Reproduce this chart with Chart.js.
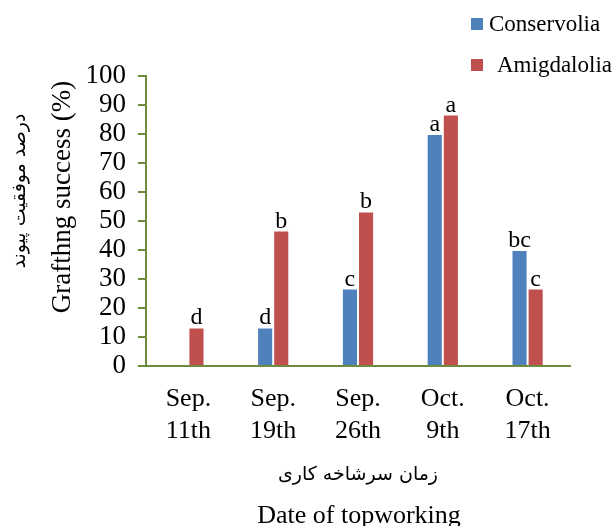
<!DOCTYPE html>
<html>
<head>
<meta charset="utf-8">
<script src="https://cdn.jsdelivr.net/npm/chart.js@4.4.1/dist/chart.umd.min.js"></script>
<style>
  html, body { margin: 0; padding: 0; background: #fff; }
  #wrap { width: 616px; height: 526px; }
</style>
</head>
<body>
<div id="wrap"><canvas id="c" width="616" height="526"></canvas></div>
<script>
// Topworking dates (two-line category labels)
const categories = [["Sep.", "11th"], ["Sep.", "19th"], ["Sep.", "26th"], ["Oct.", "9th"], ["Oct.", "17th"]];
// Grafting success (%) per cultivar
const conservolia = [0, 13.3, 26.7, 80, 40];
const amigdalolia = [13.3, 46.7, 53.3, 86.7, 26.7];
// Mean-separation letters shown above the bars
const conservoliaLetters = ["", "d", "c", "a", "bc"];
const amigdaloliaLetters = ["d", "b", "b", "a", "c"];
const yTicks = [0, 10, 20, 30, 40, 50, 60, 70, 80, 90, 100];

const serif = "'Liberation Serif', 'Times New Roman', serif";
const arabicFont = "'DejaVu Sans', sans-serif";
const axisColor = "#6F8C3E";
const blue = "#4F81BD";
const red = "#C0504D";

const extras = {
  id: "extras",
  afterDatasetsDraw(chart) {
    const ctx = chart.ctx;
    ctx.save();
    // letters over bars
    ctx.font = "24px " + serif;
    ctx.fillStyle = "#000";
    ctx.textAlign = "center";
    ctx.textBaseline = "alphabetic";
    const letterSets = [conservoliaLetters, amigdaloliaLetters];
    chart.data.datasets.forEach((ds, di) => {
      const meta = chart.getDatasetMeta(di);
      meta.data.forEach((bar, i) => {
        const t = letterSets[di][i];
        if (t) ctx.fillText(t, bar.x, bar.y - 3);
      });
    });
    ctx.restore();
  },
  afterDraw(chart) {
    const ctx = chart.ctx;
    ctx.save();
    ctx.fillStyle = "#000";
    // legend (stacked, top right)
    const items = [
      { label: chart.data.datasets[0].label, color: blue, x: 471, y: 24, tx: 489 },
      { label: chart.data.datasets[1].label, color: red, x: 471, y: 65, tx: 497 }
    ];
    ctx.font = "23px " + serif;
    ctx.textAlign = "left";
    ctx.textBaseline = "middle";
    items.forEach(it => {
      ctx.fillStyle = it.color;
      ctx.fillRect(it.x, it.y - 6, 12, 12);
      ctx.fillStyle = "#000";
      ctx.fillText(it.label, it.tx, it.y + 1);
    });
    // y-axis titles (rotated)
    ctx.save();
    ctx.translate(63, 197);
    ctx.rotate(-Math.PI / 2);
    ctx.textAlign = "center";
    ctx.textBaseline = "middle";
    ctx.font = "27px " + serif;
    ctx.fillText("Grafthng success (%)", 0, 0);
    ctx.restore();
    ctx.save();
    ctx.translate(20, 191);
    ctx.rotate(-Math.PI / 2);
    ctx.textAlign = "center";
    ctx.textBaseline = "middle";
    ctx.font = "19px " + arabicFont;
    ctx.direction = "rtl";
    ctx.fillText("درصد موفقیت پیوند", 0, 0);
    ctx.restore();
    // x-axis titles
    ctx.textAlign = "center";
    ctx.textBaseline = "middle";
    ctx.font = "19px " + arabicFont;
    ctx.direction = "rtl";
    ctx.fillText("زمان سرشاخه کاری", 358, 475);
    ctx.direction = "ltr";
    ctx.font = "26px " + serif;
    ctx.fillText("Date of topworking", 359, 516);
    ctx.restore();
  }
};

new Chart(document.getElementById("c"), {
  type: "bar",
  data: {
    labels: categories,
    datasets: [
      { label: "Conservolia", data: conservolia, backgroundColor: blue, borderColor: "rgba(255,255,255,0.35)", borderWidth: 1 },
      { label: "Amigdalolia", data: amigdalolia, backgroundColor: red, borderColor: "rgba(255,255,255,0.35)", borderWidth: 1 }
    ]
  },
  options: {
    responsive: false,
    animation: false,
    devicePixelRatio: 1,
    layout: { padding: { top: 76, right: 46, left: 0, bottom: 0 } },
    datasets: { bar: { categoryPercentage: 0.38, barPercentage: 1.0 } },
    plugins: { legend: { display: false }, tooltip: { enabled: false } },
    scales: {
      x: {
        grid: { display: false, drawTicks: false },
        border: { display: true, color: axisColor, width: 2 },
        ticks: {
          color: "#000",
          font: { family: serif, size: 26, lineHeight: 1.23 },
          padding: 17,
          maxRotation: 0,
          autoSkip: false
        },
        afterFit(s) { s.height = 160; }
      },
      y: {
        min: 0,
        max: 100,
        afterBuildTicks(s) { s.ticks = yTicks.map(v => ({ value: v })); },
        grid: { drawOnChartArea: false, drawTicks: true, tickLength: 8, color: axisColor, lineWidth: 2 },
        border: { display: true, color: axisColor, width: 2 },
        ticks: {
          color: "#000",
          font: { family: serif, size: 27 },
          padding: 12,
          autoSkip: false
        },
        afterFit(s) { s.width = 146; }
      }
    }
  },
  plugins: [extras]
});
</script>
</body>
</html>
